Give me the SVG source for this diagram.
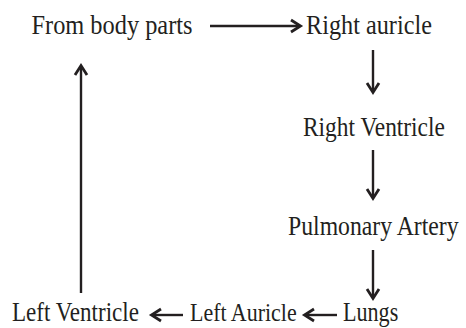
<svg xmlns="http://www.w3.org/2000/svg" width="466" height="328" viewBox="0 0 466 328">
<defs>
<style>
text{font-family:"Liberation Serif","Times New Roman",serif;fill:#231f20;font-size:28px}
.sm{font-size:25px}
.c line{stroke:#231f20;stroke-width:2.4}
</style>
<marker id="ah" markerUnits="userSpaceOnUse" markerWidth="16" markerHeight="16" refX="12" refY="8" orient="auto" viewBox="0 0 16 16">
<path d="M3,2 L12.5,8 L3,14" fill="none" stroke="#231f20" stroke-width="2.8" stroke-linejoin="miter"/>
</marker>
</defs>
<rect width="466" height="328" fill="#fff"/>
<g id="n-from"><text transform="matrix(0.87,0,0,1,31.5,34)">From body parts</text></g>
<g id="n-ra"><text transform="matrix(0.866,0,0,1,306,34)">Right auricle</text></g>
<g id="n-rv"><text transform="matrix(0.836,0,0,1,303,136)">Right Ventricle</text></g>
<g id="n-pa"><text transform="matrix(0.847,0,0,1,288,235)">Pulmonary Artery</text></g>
<g id="n-lungs"><text transform="matrix(0.79,0,0,1,343,321)">Lungs</text></g>
<g id="n-la"><text class="sm" transform="matrix(0.879,0,0,1,190,321)">Left Auricle</text></g>
<g id="n-lv"><text transform="matrix(0.824,0,0,1,12,321)">Left Ventricle</text></g>
<g id="connectors" class="c">
<line x1="210" y1="26" x2="300" y2="26" marker-end="url(#ah)"/>
<line x1="373" y1="50" x2="373" y2="92" marker-end="url(#ah)"/>
<line x1="373" y1="150" x2="373" y2="198" marker-end="url(#ah)"/>
<line x1="373" y1="250" x2="373" y2="298" marker-end="url(#ah)"/>
<line x1="337" y1="315" x2="305" y2="315" marker-end="url(#ah)"/>
<line x1="183" y1="315" x2="152" y2="315" marker-end="url(#ah)"/>
<line x1="81" y1="293" x2="81" y2="66" marker-end="url(#ah)"/>
</g>
</svg>
